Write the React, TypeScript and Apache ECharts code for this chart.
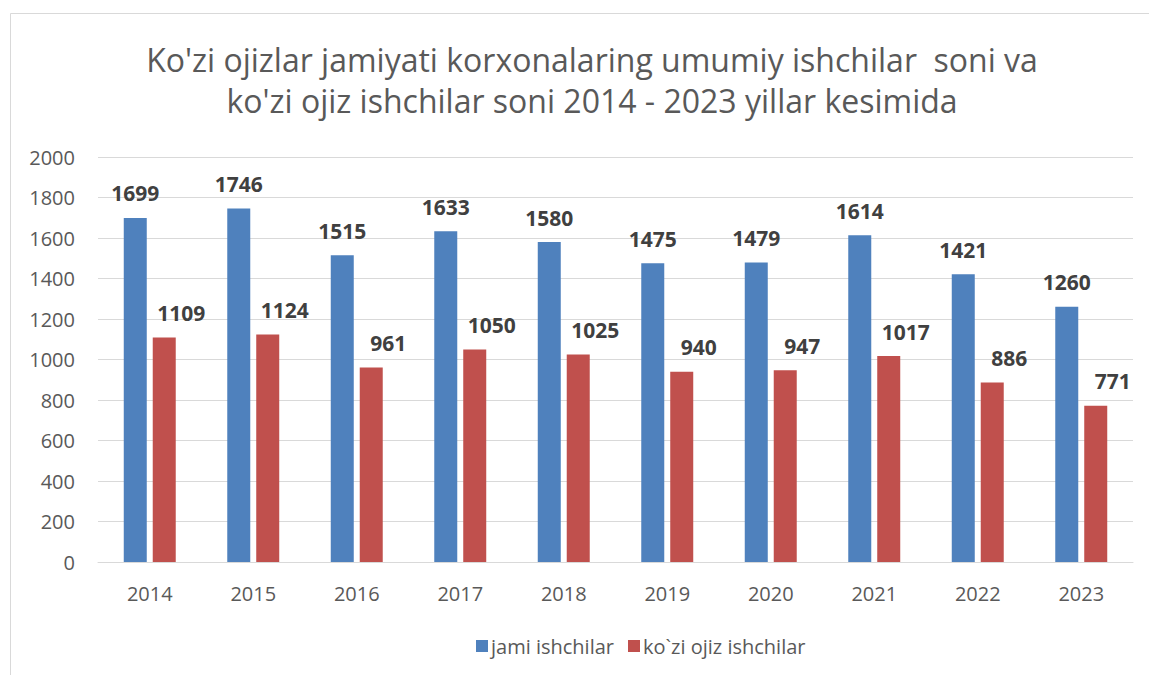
import React, { useEffect, useRef } from "react";
import * as echarts from "echarts";

const titleText = "Ko'zi ojizlar jamiyati korxonalaring umumiy ishchilar  soni va\nko'zi ojiz ishchilar soni 2014 - 2023 yillar kesimida";
const years = ["2014", "2015", "2016", "2017", "2018", "2019", "2020", "2021", "2022", "2023"];
const seriesNames = ["jami ishchilar", "ko`zi ojiz ishchilar"];
const totalWorkers = [1699, 1746, 1515, 1633, 1580, 1475, 1479, 1614, 1421, 1260];
const blindWorkers = [1109, 1124, 961, 1050, 1025, 940, 947, 1017, 886, 771];
const yTicks = { min: 0, max: 2000, interval: 200 };

const FONT = "'Open Sans', sans-serif";

export default function App() {
  const ref = useRef<HTMLDivElement>(null);
  useEffect(() => {
    const chart = echarts.init(ref.current!, null, { renderer: "svg" });
    const labelStyle = {
      show: true,
      position: "top" as const,
      distance: 14,
      fontFamily: FONT,
      fontWeight: "bold" as const,
      fontSize: 21,
      color: "#404040",
    };
    chart.setOption({
      animation: false,
      backgroundColor: "#ffffff",
      title: {
        text: titleText,
        left: 587,
        top: 34,
        textAlign: "center",
        textStyle: {
          fontFamily: FONT,
          fontWeight: "normal",
          fontSize: 32,
          lineHeight: 41,
          color: "#595959",
        },
      },
      graphic: [
        {
          type: "rect",
          shape: { x: 10.5, y: 13.5, width: 1200, height: 700 },
          style: { fill: "none", stroke: "#d9d9d9", lineWidth: 1 },
          silent: true,
        },
      ],
      legend: {
        bottom: 14,
        left: 471,
        itemWidth: 12,
        itemHeight: 12,
        itemGap: 14,
        icon: "rect",
        textStyle: { fontFamily: FONT, fontSize: 20, color: "#595959", padding: [0, 0, 0, -2] },
        data: seriesNames,
      },
      grid: { left: 98, right: 16, top: 157, bottom: 113, containLabel: false },
      xAxis: {
        type: "category",
        data: years,
        axisLine: { lineStyle: { color: "#d9d9d9", width: 1 } },
        axisTick: { show: false },
        axisLabel: { fontFamily: FONT, fontSize: 20, color: "#595959", margin: 21 },
      },
      yAxis: {
        type: "value",
        min: yTicks.min,
        max: yTicks.max,
        interval: yTicks.interval,
        axisLine: { show: false },
        axisTick: { show: false },
        splitLine: { lineStyle: { color: "#d9d9d9", width: 1 } },
        axisLabel: {
          fontFamily: FONT,
          fontSize: 20,
          color: "#595959",
          margin: 23,
          formatter: (v: number) => String(v),
        },
      },
      series: [
        {
          name: seriesNames[0],
          type: "bar",
          data: totalWorkers,
          barWidth: 23,
          barGap: "26%",
          itemStyle: { color: "#4f81bd" },
          label: labelStyle,
        },
        {
          name: seriesNames[1],
          type: "bar",
          data: blindWorkers,
          barWidth: 23,
          itemStyle: { color: "#c0504d" },
          label: { ...labelStyle, offset: [17, 0] },
        },
      ],
    });
    return () => chart.dispose();
  }, []);
  return (
    <div
      ref={ref}
      style={{ position: "fixed", left: 0, top: 0, width: 1149, height: 675, background: "#fff" }}
    />
  );
}
